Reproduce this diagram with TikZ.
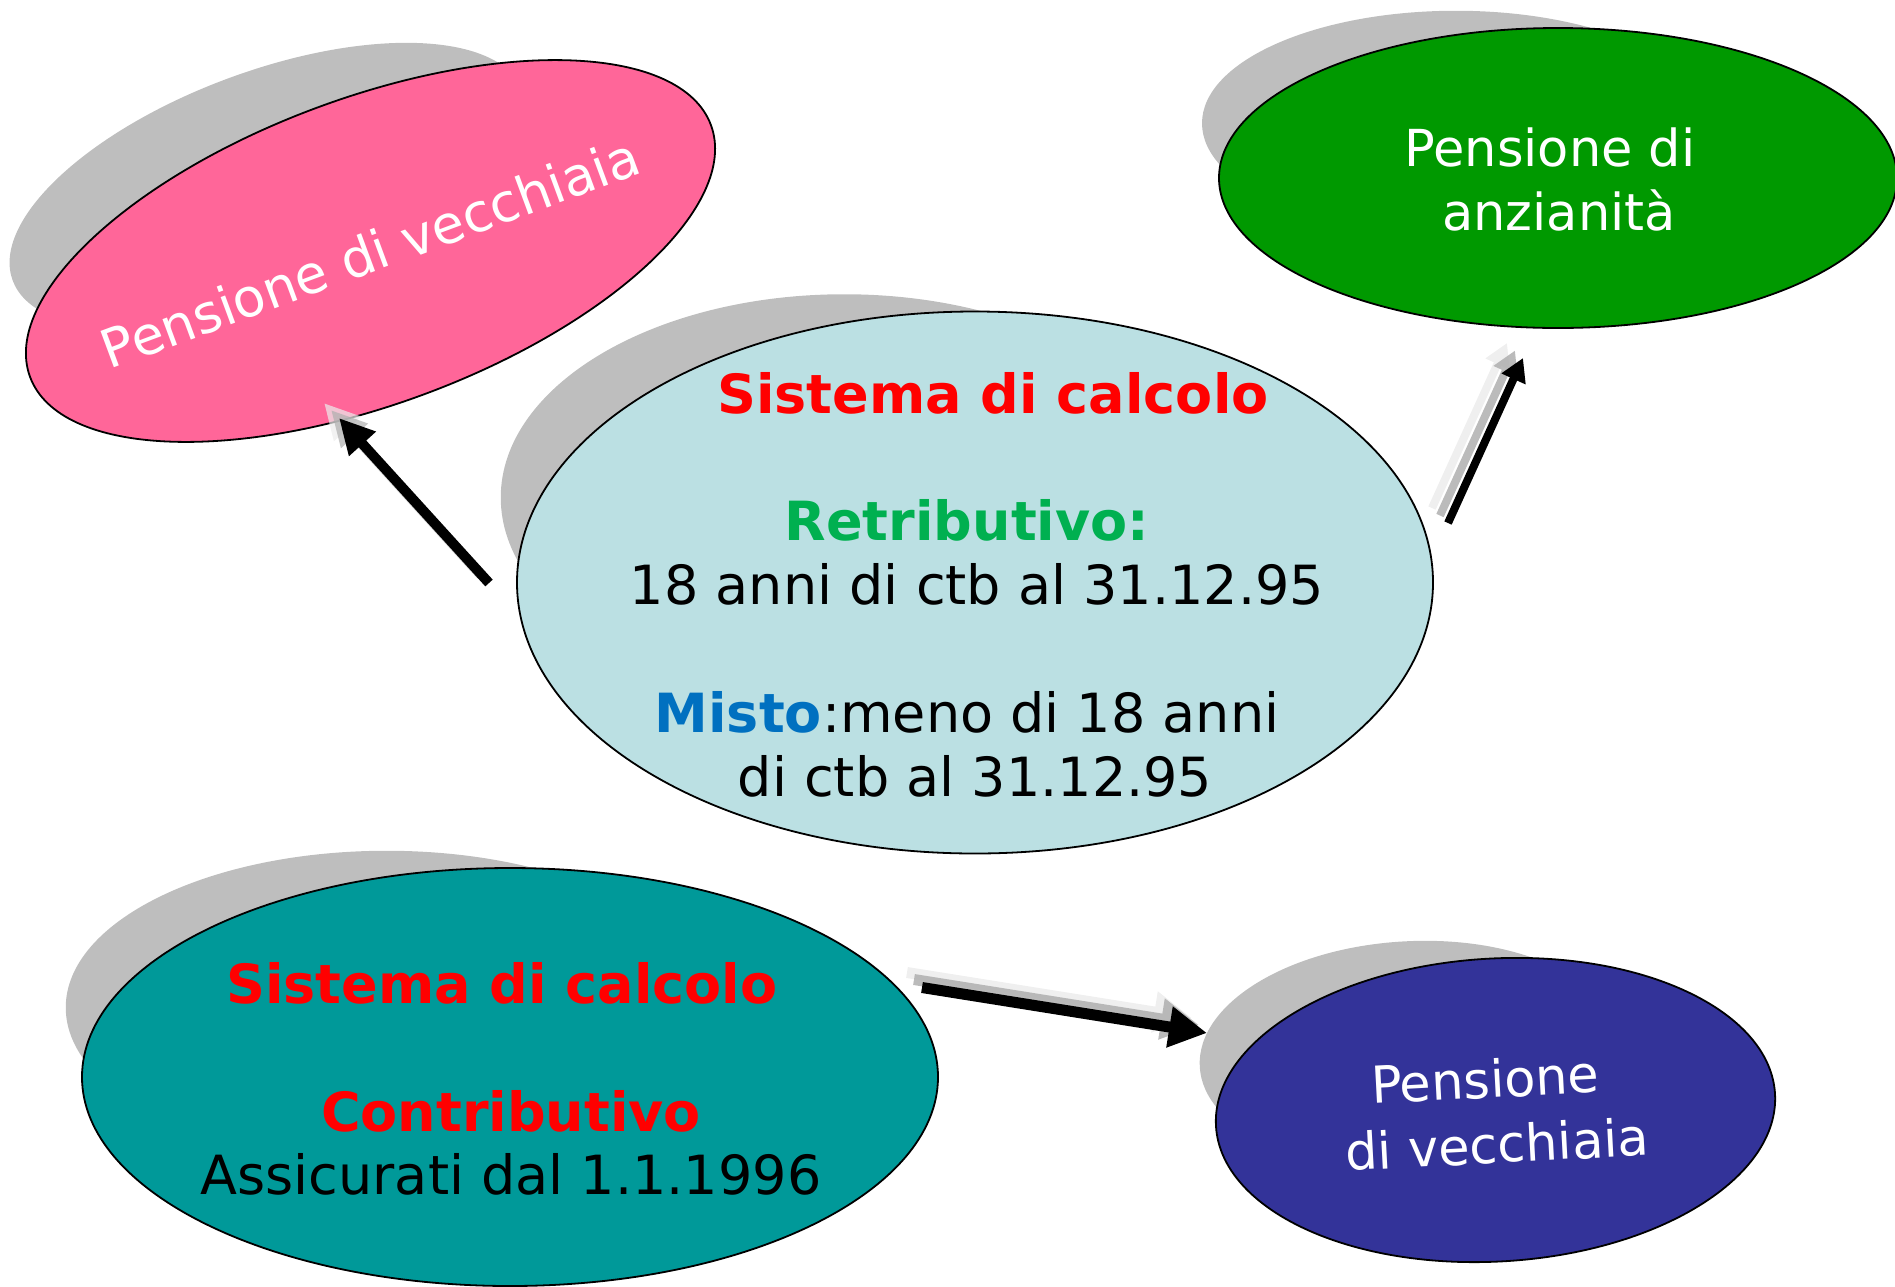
\documentclass[tikz,border=0pt]{standalone}
\usepackage{fontspec}
\setmainfont{DejaVu Sans}
\usetikzlibrary{arrows.meta,shapes.geometric}
\definecolor{shadowgray}{RGB}{190,190,190}
\definecolor{pinkfill}{RGB}{255,102,153}
\definecolor{greenfill}{RGB}{0,153,0}
\definecolor{bluefill}{RGB}{187,224,227}
\definecolor{tealfill}{RGB}{0,153,153}
\definecolor{navyfill}{RGB}{51,51,153}
\definecolor{sysred}{RGB}{255,0,0}
\definecolor{retgreen}{RGB}{0,176,80}
\definecolor{mistoblue}{RGB}{0,112,192}
\definecolor{ghostlight}{RGB}{236,236,236}
\definecolor{ghostmid}{RGB}{175,175,175}
\begin{document}
\begin{tikzpicture}[x=1pt,y=-1pt,
  shadowE/.style={ellipse,fill=shadowgray,inner sep=0pt,draw=none},
  bubble/.style={ellipse,draw=black,line width=1.8pt,inner sep=0pt},
  boldtxt/.style={inner sep=0pt,anchor=base,font=\fontsize{54}{64}\selectfont\bfseries},
  regtxt/.style={inner sep=0pt,anchor=base,text=black,font=\fontsize{54}{64}\selectfont},
  whitetxt/.style={inner sep=0pt,anchor=base,text=white,font=\fontsize{51}{61}\selectfont},
  arrowA/.style={line width=10pt,-{Triangle[length=35pt,width=34pt]}},
  arrowB/.style={line width=8pt,-{Triangle[length=23pt,width=25pt]}},
  arrowC/.style={line width=11pt,-{Triangle[length=38pt,width=39pt]}}]
\useasboundingbox (0,0) rectangle (1895,1286);
\clip (0,0) rectangle (1895,1286);

% ellipses with their shadows
\node[shadowE,minimum width=544.5pt,minimum height=229.5pt,rotate=20.3] (pinksh) at (268,186) {};
\node[bubble,fill=pinkfill,minimum width=726pt,minimum height=306pt,rotate=20.3] (pink) at (370.5,251) {};

\node[shadowE,minimum width=508pt,minimum height=225pt] (greensh) at (1456,123.25) {};
\node[bubble,fill=greenfill,minimum width=678pt,minimum height=300pt] (green) at (1558,178) {};

\node[shadowE,minimum width=687pt,minimum height=406.5pt] (centersh) at (844.25,497.5) {};
\node[bubble,fill=bluefill,minimum width=916pt,minimum height=542pt] (center) at (975,582.5) {};

\node[shadowE,minimum width=642pt,minimum height=313.5pt] (tealsh) at (386.75,1007.5) {};
\node[bubble,fill=tealfill,minimum width=856pt,minimum height=418pt] (teal) at (510,1077) {};

\node[shadowE,minimum width=420pt,minimum height=227pt,rotate=3.3] (navysh) at (1409.4,1054.75) {};
\node[bubble,fill=navyfill,minimum width=560pt,minimum height=303pt,rotate=3.3] (navy) at (1495.5,1110) {};

% texts
\node[whitetxt,rotate=20.3,font=\fontsize{53}{63}\selectfont] (p1) at (377,271) {Pensione di vecchiaia};

\node[whitetxt] (g1) at (1550,166) {Pensione di};
\node[whitetxt] (g2) at (1559,230) {anzianità};

\node[boldtxt,text=sysred] (c1) at (993,413) {Sistema di calcolo};
\node[boldtxt,text=retgreen] (c2) at (967,540) {Retributivo:};
\node[regtxt] (c3) at (977,604) {18 anni di ctb al 31.12.95};
\node[regtxt] (c4) at (967,732) {\textbf{\color{mistoblue}Misto}:meno di 18 anni};
\node[regtxt] (c5) at (975,796) {di ctb al 31.12.95};

\node[boldtxt,text=sysred] (t1) at (502,1003) {Sistema di calcolo};
\node[boldtxt,text=sysred] (t2) at (511,1131) {Contributivo};
\node[regtxt] (t3) at (511,1194) {Assicurati dal 1.1.1996};

\node[whitetxt,rotate=3] (n1) at (1486,1098) {Pensione};
\node[whitetxt,rotate=3] (n2) at (1498,1163) {di vecchiaia};

% arrow end points
\coordinate (a1s) at (489,583);
\coordinate (a1e) at (339,418);
\coordinate (a2s) at (1448,523);
\coordinate (a2e) at (1523,358);
\coordinate (a3s) at (922,987.5);
\coordinate (a3e) at (1207,1033);

% arrow ghosts (shadows)
\begin{scope}[transparency group,opacity=0.7]
\draw[arrowA,ghostlight] ([shift={(-15,-15)}]a1s) -- ([shift={(-15,-15)}]a1e);
\end{scope}
\begin{scope}[transparency group,opacity=0.7]
\draw[arrowA,ghostmid] ([shift={(-8,-8)}]a1s) -- ([shift={(-8,-8)}]a1e);
\end{scope}
\begin{scope}[transparency group,opacity=0.85]
\draw[arrowB,ghostlight] ([shift={(-16,-15)}]a2s) -- ([shift={(-16,-15)}]a2e);
\end{scope}
\begin{scope}[transparency group,opacity=0.85]
\draw[arrowB,ghostmid] ([shift={(-8,-7.5)}]a2s) -- ([shift={(-8,-7.5)}]a2e);
\end{scope}
\begin{scope}[transparency group,opacity=0.85]
\draw[arrowC,ghostlight] ([shift={(-15,-15)}]a3s) -- ([shift={(-15,-15)}]a3e);
\end{scope}
\begin{scope}[transparency group,opacity=0.85]
\draw[arrowC,ghostmid] ([shift={(-8,-8)}]a3s) -- ([shift={(-8,-8)}]a3e);
\end{scope}

% arrows
\draw[arrowA,black] (a1s) -- (a1e);
\draw[arrowB,black] (a2s) -- (a2e);
\draw[arrowC,black] (a3s) -- (a3e);
\end{tikzpicture}
\end{document}
